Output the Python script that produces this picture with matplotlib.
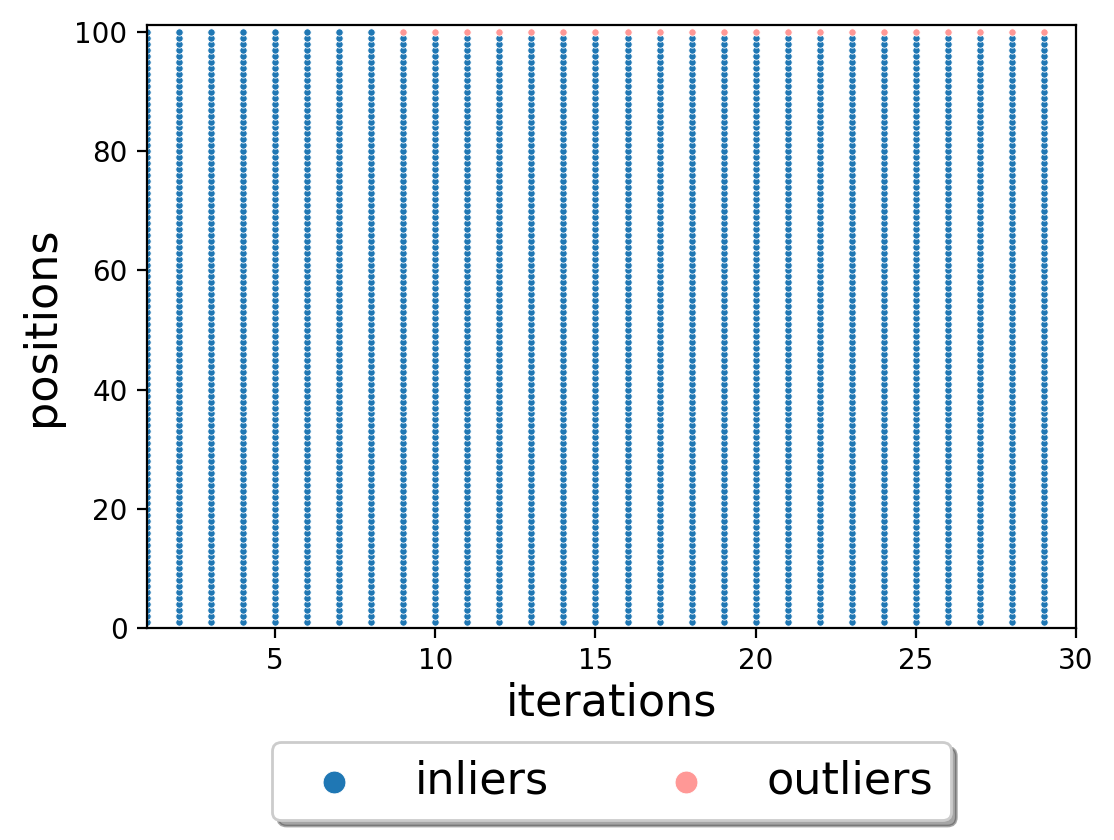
import numpy as np
import matplotlib
matplotlib.use('Agg')
from matplotlib import pyplot as plt

# data
iterations = list(range(1, 30))
positions = list(range(1, 101))
outlier_iters = list(range(9, 30))
outlier_pos = 100

inl_x = []
inl_y = []
out_x = []
out_y = []
for it in iterations:
    for p in positions:
        if it in outlier_iters and p == outlier_pos:
            out_x.append(it)
            out_y.append(p)
        else:
            inl_x.append(it)
            inl_y.append(p)

fig = plt.figure(figsize=(5.57, 4.2), dpi=200)
ax = fig.add_axes([147/1114, 1-628/840, (1076-147)/1114, (628-25)/840])

ax.scatter(inl_x, inl_y, s=7, color='#1f77b4', edgecolor='white', linewidth=0.3, label='inliers')
ax.scatter(out_x, out_y, s=7, color='#ff9896', edgecolor='white', linewidth=0.3, label='outliers')

ax.set_xlim(1, 30)
ax.set_ylim(0, 101.2)
ax.set_xticks([5, 10, 15, 20, 25, 30])
ax.set_yticks([0, 20, 40, 60, 80, 100])
ax.set_xlabel('iterations', fontsize=16, labelpad=2)
ax.set_ylabel('positions', fontsize=16)

ax.legend(loc='upper center', bbox_to_anchor=(0.5, -0.152), ncol=2, fancybox=True,
          shadow=True, fontsize=16, markerscale=3.1, columnspacing=2.1)

plt.savefig('out.png', dpi=200)
